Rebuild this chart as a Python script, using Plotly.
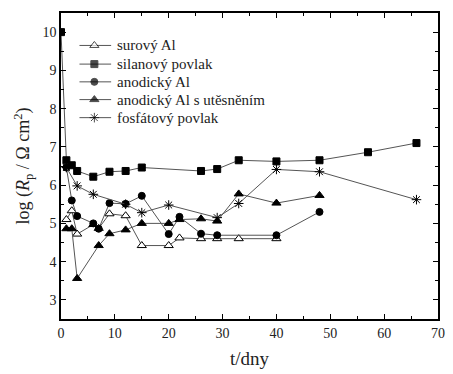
import plotly.graph_objects as go

# --- data ---
x_surovy = [1, 2, 3, 6, 7, 9, 12, 15, 20, 22, 26, 29, 33, 40]
y_surovy = [5.10, 5.33, 4.72, 4.97, 4.87, 5.25, 5.20, 4.42, 4.42, 4.62, 4.60, 4.60, 4.60, 4.60]

x_silan = [0, 1, 2, 3, 6, 9, 12, 15, 26, 29, 33, 40, 48, 57, 66]
y_silan = [10.0, 6.65, 6.52, 6.37, 6.22, 6.35, 6.37, 6.46, 6.37, 6.42, 6.65, 6.62, 6.65, 6.86, 7.10]

x_anod = [1, 2, 3, 6, 7, 9, 12, 15, 20, 22, 26, 29, 40, 48]
y_anod = [6.46, 5.60, 5.19, 5.00, 4.86, 5.53, 5.51, 5.72, 4.72, 5.17, 4.73, 4.69, 4.69, 5.30]

x_utes = [1, 2, 3, 7, 9, 12, 15, 20, 22, 26, 29, 33, 40, 48]
y_utes = [4.86, 4.86, 3.56, 4.42, 4.73, 4.83, 5.00, 5.00, 5.10, 5.12, 5.06, 5.77, 5.53, 5.73]

x_fosf = [1, 3, 6, 12, 15, 20, 29, 33, 40, 48, 66]
y_fosf = [6.46, 5.98, 5.76, 5.50, 5.28, 5.48, 5.15, 5.52, 6.41, 6.35, 5.62]

names = ["surový Al", "silanový povlak", "anodický Al", "anodický Al s utěsněním", "fosfátový povlak"]

line_col = "#555555"
serif = "Liberation Serif, Times New Roman, serif"

styles = [
    dict(symbol="triangle-up", size=8, color="white"),
    dict(symbol="square", size=7, color="black"),
    dict(symbol="circle", size=7, color="black"),
    dict(symbol="triangle-up", size=8, color="black"),
    dict(symbol="asterisk-open", size=8, color="black"),
]
series = [(x_surovy, y_surovy), (x_silan, y_silan), (x_anod, y_anod),
          (x_utes, y_utes), (x_fosf, y_fosf)]

fig = go.Figure()

for (x, y), name, st in zip(series, names, styles):
    fig.add_trace(go.Scatter(
        x=x, y=y, name=name, mode="lines+markers", showlegend=False,
        line=dict(color=line_col, width=1),
        marker=dict(symbol=st["symbol"], size=st["size"], color=st["color"],
                    line=dict(color="black", width=1)),
    ))

# --- hand-built legend on an overlay axis in paper-like units ---
leg_x0, leg_x1, leg_xm, leg_xt = 0.049, 0.133, 0.0885, 0.143
leg_rows = [0.894, 0.833, 0.775, 0.717, 0.658]
for name, st, ly in zip(names, styles, leg_rows):
    fig.add_trace(go.Scatter(
        x=[leg_x0, leg_xm, leg_x1], y=[ly, ly, ly], xaxis="x2", yaxis="y2",
        mode="lines+markers", showlegend=False, hoverinfo="skip",
        line=dict(color=line_col, width=1),
        marker=dict(symbol=st["symbol"], size=[0, st["size"], 0], color=st["color"],
                    line=dict(color="black", width=[0, 1, 0])),
    ))
    fig.add_annotation(x=leg_xt, y=ly, xref="x2", yref="y2", text=name,
                       showarrow=False, xanchor="left", yanchor="middle",
                       font=dict(family=serif, size=15, color="#222"))

axis_common = dict(
    showline=True, linecolor="black", linewidth=1.5, mirror="ticks",
    ticks="inside", ticklen=5, tickwidth=1.2, tickcolor="black",
    showgrid=False, zeroline=False,
    tickfont=dict(family=serif, size=14, color="#222"),
)

fig.update_layout(
    xaxis=dict(range=[0, 70], dtick=10,
               minor=dict(ticks="inside", ticklen=3, dtick=5, tickcolor="black"),
               title=dict(text="t/dny", font=dict(family=serif, size=19, color="#222"), standoff=12),
               **axis_common),
    yaxis=dict(range=[2.5, 10.5], dtick=1,
               minor=dict(ticks="inside", ticklen=3, dtick=0.5, tickcolor="black"),
               title=dict(text="log (<i>R</i><sub>p</sub> / Ω cm<sup>2</sup>)",
                          font=dict(family=serif, size=18, color="#222"), standoff=8),
               **axis_common),
    xaxis2=dict(overlaying="x", range=[0, 1], visible=False, fixedrange=True),
    yaxis2=dict(overlaying="y", range=[0, 1], visible=False, fixedrange=True),
    width=453, height=374,
    margin=dict(l=61, r=8, t=13, b=50),
    plot_bgcolor="white", paper_bgcolor="white",
    showlegend=False,
)

fig.write_html("out.html")
